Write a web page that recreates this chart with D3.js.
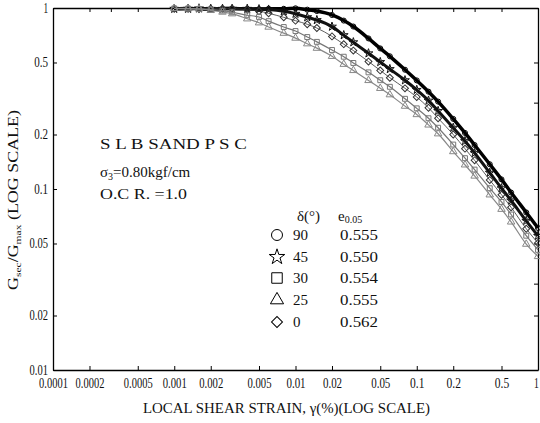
<!DOCTYPE html>
<html>
<head>
<meta charset="utf-8">
<script src="https://cdn.jsdelivr.net/npm/d3@7"></script>
<style>
  body { margin: 0; background: #fff; }
  text { font-family: "Liberation Serif", "DejaVu Serif", serif; fill: #111; }
</style>
</head>
<body>
<script>
'use strict';

// shear strain (%) read along the bottom axis
const strain = [0.001, 0.0013, 0.0016, 0.002, 0.0025, 0.003, 0.004, 0.005, 0.006, 0.008,
  0.01, 0.0125, 0.015, 0.02, 0.025, 0.03, 0.04, 0.05, 0.06, 0.08,
  0.1, 0.125, 0.15, 0.2, 0.25, 0.3, 0.4, 0.5, 0.6, 0.8, 1.0];

// Gsec/Gmax for each delta
const g90 = [0.99, 0.995, 0.99, 0.985, 0.99, 0.995, 0.99, 0.985, 0.99, 0.99,
  0.996, 0.979, 0.962, 0.915, 0.852, 0.790, 0.679, 0.598, 0.541, 0.456,
  0.398, 0.345, 0.304, 0.244, 0.204, 0.175, 0.137, 0.113, 0.0956, 0.0742, 0.0609];
const g45 = [0.99, 0.99, 0.995, 0.99, 0.99, 0.99, 0.99, 0.985, 0.98, 0.959,
  0.929, 0.890, 0.858, 0.789, 0.708, 0.647, 0.562, 0.503, 0.460, 0.399,
  0.353, 0.308, 0.270, 0.218, 0.184, 0.158, 0.123, 0.101, 0.0864, 0.0667, 0.0551];
const g30 = [0.995, 0.994, 0.987, 0.981, 0.967, 0.947, 0.912, 0.892, 0.846, 0.785,
  0.746, 0.691, 0.650, 0.586, 0.538, 0.497, 0.441, 0.399, 0.367, 0.315,
  0.279, 0.246, 0.218, 0.176, 0.148, 0.128, 0.101, 0.0848, 0.0723, 0.0552, 0.0461];
const g25 = [0.995, 0.99, 0.989, 0.971, 0.950, 0.930, 0.872, 0.829, 0.785, 0.726,
  0.682, 0.635, 0.600, 0.541, 0.489, 0.452, 0.398, 0.360, 0.332, 0.287,
  0.258, 0.226, 0.202, 0.161, 0.136, 0.118, 0.0929, 0.0773, 0.0658, 0.0496, 0.0424];
const g0 = [0.99, 0.99, 0.985, 0.99, 0.99, 0.99, 0.977, 0.961, 0.935, 0.888,
  0.851, 0.813, 0.775, 0.697, 0.631, 0.582, 0.506, 0.452, 0.412, 0.360,
  0.322, 0.281, 0.246, 0.200, 0.167, 0.144, 0.112, 0.0930, 0.0792, 0.0603, 0.0503];

// legend
const deltas = ['90', '45', '30', '25', '0'];
const voidRatios = ['0.555', '0.550', '0.554', '0.555', '0.562'];

// ticks
const xTicks = [0.0001, 0.0002, 0.0005, 0.001, 0.002, 0.005, 0.01, 0.02, 0.05, 0.1, 0.2, 0.5, 1];
const xTickLabels = ['0.0001', '0.0002', '0.0005', '0.001', '0.002', '0.005', '0.01', '0.02', '0.05', '0.1', '0.2', '0.5', '1'];
const yTicks = [1, 0.5, 0.2, 0.1, 0.05, 0.02, 0.01];
const yTickLabels = ['1', '0.5', '0.2', '0.1', '0.05', '0.02', '0.01'];
const xMinor = [0.0003, 0.003, 0.03, 0.3];
const yMinor = [0.3, 0.03];

let svgContainer = d3.select('body').append('svg')
  .attr('width', 540)
  .attr('height', 423);

let xScale = d3.scaleLog().domain([0.0001, 1]).range([53, 538]);
let yScale = d3.scaleLog().domain([0.01, 1]).range([370, 8]);

drawAxes();
plotData();
makeLabels();

// squeeze tick labels so they look condensed like the scan
function condense(sel, perChar) {
  sel.each(function() {
    let t = d3.select(this);
    t.attr('textLength', t.text().length * perChar).attr('lengthAdjust', 'spacingAndGlyphs');
  });
}

// frame with inward ticks on every side
function drawAxes() {
  let allX = xTicks.concat(xMinor);
  let allY = yTicks.concat(yMinor);

  svgContainer.append('g')
    .attr('transform', 'translate(0, 370)')
    .call(d3.axisBottom(xScale).tickValues(xTicks)
      .tickFormat((d, i) => xTickLabels[i]).tickSizeInner(-4).tickSizeOuter(0).tickPadding(8))
    .call(g => g.selectAll('text').style('font-size', '14px').call(condense, 4.8))
    .call(g => g.selectAll('.tick:last-of-type text').attr('dx', -2));

  svgContainer.append('g')
    .attr('transform', 'translate(0, 8)')
    .call(d3.axisTop(xScale).tickValues(allX).tickFormat('').tickSizeInner(-4).tickSizeOuter(0));

  svgContainer.append('g')
    .attr('transform', 'translate(53, 0)')
    .call(d3.axisLeft(yScale).tickValues(yTicks)
      .tickFormat((d, i) => yTickLabels[i]).tickSizeInner(-4).tickSizeOuter(0).tickPadding(5))
    .call(g => g.selectAll('text').style('font-size', '14px').call(condense, 4.6));

  svgContainer.append('g')
    .attr('transform', 'translate(538, 0)')
    .call(d3.axisRight(yScale).tickValues(allY).tickFormat('').tickSizeInner(-4).tickSizeOuter(0));

  svgContainer.selectAll('.domain').attr('stroke', '#000').attr('stroke-width', 1.3);
  svgContainer.selectAll('.tick line').attr('stroke', '#000');
}

// markers along each curve
function plotData() {
  let series = [
    { values: g90, type: d3.symbolCircle, color: '#000', width: 3.5, size: 20, rot: 0 },
    { values: g45, type: d3.symbolStar, color: '#111', width: 3, size: 24, rot: 0 },
    { values: g0, type: d3.symbolSquare, color: '#333', width: 0.8, size: 24, rot: 45 },
    { values: g30, type: d3.symbolSquare, color: '#777', width: 1.2, size: 24, rot: 0 },
    { values: g25, type: d3.symbolTriangle, color: '#888', width: 1.2, size: 24, rot: 0 }
  ];

  let line = d3.line()
    .x((d, i) => xScale(strain[i]))
    .y(d => yScale(d))
    .curve(d3.curveMonotoneX);

  series.forEach(function(s) {
    svgContainer.append('path')
      .attr('d', line(s.values))
      .attr('fill', 'none')
      .attr('stroke', s.color)
      .attr('stroke-width', s.width);

    svgContainer.append('g').selectAll('path')
      .data(s.values)
      .enter()
      .append('path')
        .attr('d', d3.symbol().type(s.type).size(s.size))
        .attr('transform', (d, i) => 'translate(' + xScale(strain[i]) + ',' + yScale(d) + ') rotate(' + s.rot + ')')
        .attr('fill', 'none')
        .attr('stroke', s.color)
        .attr('stroke-width', 1);
  });
}

// title block, legend and axis titles
function makeLabels() {
  let note = svgContainer.append('g').style('font-size', '15px');
  note.append('text').attr('x', 100).attr('y', 149)
    .attr('textLength', 147).attr('lengthAdjust', 'spacingAndGlyphs')
    .text('S L B  SAND P S C');
  let sig = note.append('text').attr('x', 100).attr('y', 177);
  sig.append('tspan').text('σ');
  sig.append('tspan').attr('dy', 3).style('font-size', '10px').text('3');
  sig.append('tspan').attr('dy', -3).text('=0.80kgf/cm');
  note.append('text').attr('x', 100).attr('y', 199)
    .attr('textLength', 87).attr('lengthAdjust', 'spacingAndGlyphs')
    .text('O.C R. =1.0');

  // legend header
  let legend = svgContainer.append('g').style('font-size', '15px');
  legend.append('text').attr('x', 297).attr('y', 221).text('δ(°)');
  let e = legend.append('text').attr('x', 338).attr('y', 221);
  e.append('tspan').text('e');
  e.append('tspan').attr('dy', 2).style('font-size', '10px').text('0.05');

  let symbols = [
    { type: d3.symbolCircle, size: 95, rot: 0 },
    { type: d3.symbolStar, size: 75, rot: 0 },
    { type: d3.symbolSquare, size: 110, rot: 0 },
    { type: d3.symbolTriangle, size: 75, rot: 0 },
    { type: d3.symbolSquare, size: 60, rot: 45 }
  ];
  let rowY = [235, 257, 278, 300, 322];

  deltas.forEach(function(dl, i) {
    legend.append('path')
      .attr('d', d3.symbol().type(symbols[i].type).size(symbols[i].size))
      .attr('transform', 'translate(277,' + rowY[i] + ') rotate(' + symbols[i].rot + ')')
      .attr('fill', 'none')
      .attr('stroke', '#000')
      .attr('stroke-width', 1);
    legend.append('text').attr('x', 293).attr('y', rowY[i] + 5).text(dl);
    legend.append('text').attr('x', 340).attr('y', rowY[i] + 5)
      .attr('textLength', 38).attr('lengthAdjust', 'spacingAndGlyphs')
      .text(voidRatios[i]);
  });

  // x axis title
  svgContainer.append('text')
    .attr('x', 143).attr('y', 413)
    .attr('textLength', 287).attr('lengthAdjust', 'spacingAndGlyphs')
    .style('font-size', '15px')
    .text('LOCAL SHEAR STRAIN,  γ(%)(LOG SCALE)');

  // y axis title
  let yl = svgContainer.append('text')
    .attr('transform', 'translate(18, 290) rotate(-90)')
    .attr('textLength', 180).attr('lengthAdjust', 'spacingAndGlyphs')
    .style('font-size', '14px');
  yl.append('tspan').text('G');
  yl.append('tspan').attr('dy', 3).style('font-size', '9px').text('sec');
  yl.append('tspan').attr('dy', -3).text('/G');
  yl.append('tspan').attr('dy', 3).style('font-size', '9px').text('max');
  yl.append('tspan').attr('dy', -3).text(' (LOG SCALE)');
}
</script>
</body>
</html>
